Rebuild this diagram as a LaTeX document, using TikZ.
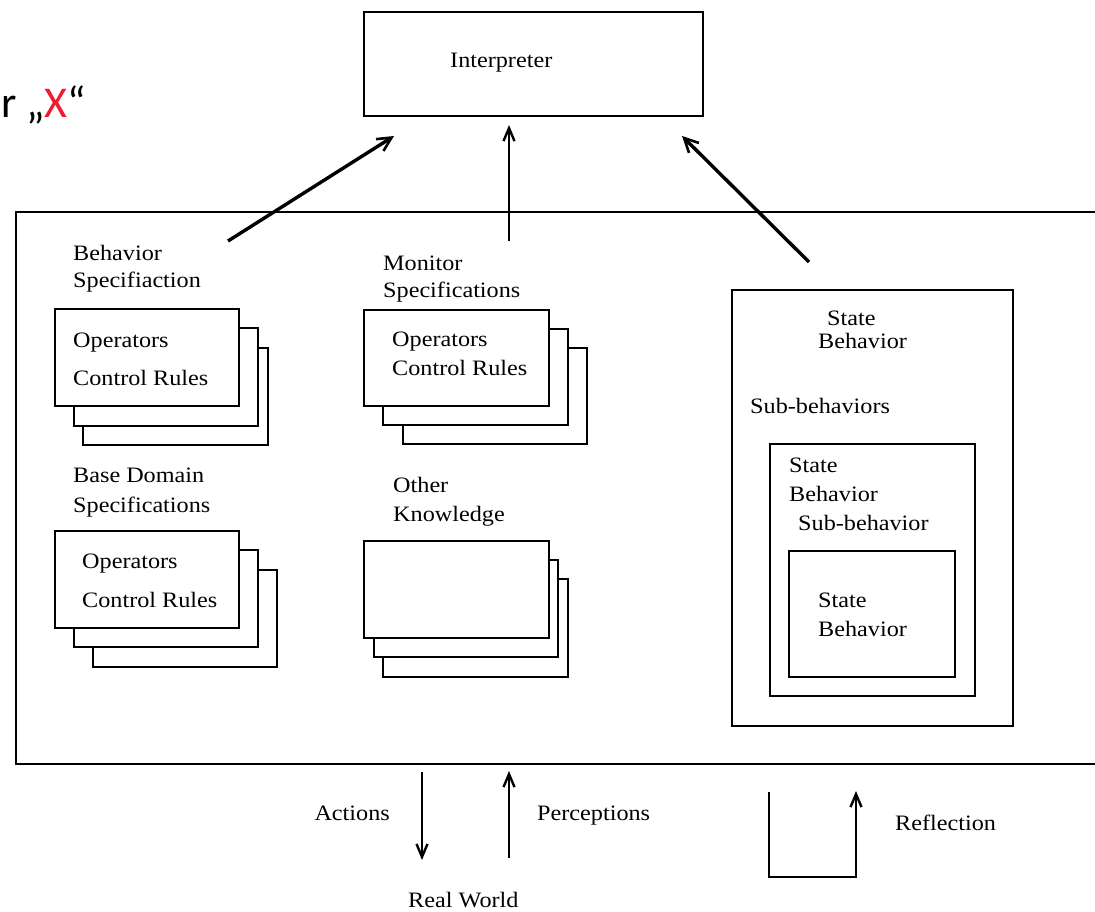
\documentclass[tikz,border=0pt]{standalone}
\usepackage{fontspec}
\setmainfont{Liberation Serif}[FakeStretch=1.1]
\newfontfamily\labelsans{Carlito}
\usetikzlibrary{arrows.meta}
\definecolor{markred}{RGB}{237,28,48}
\tikzset{
  x=1pt, y=-1pt,
  frame/.style={draw, line width=1.6pt},
  card/.style={draw, fill=white, line width=1.6pt},
  txt/.style={anchor=base west, inner sep=0pt, font=\fontsize{22}{24}\selectfont},
  flow/.style={line width=3.4pt, -{Straight Barb[length=14pt,width=14pt,line width=2.6pt]}},
  thinflow/.style={line width=2.8pt, -{Straight Barb[length=13pt,width=11pt,line width=2.4pt]}}
}
\begin{document}
\begin{tikzpicture}
\useasboundingbox (0,0) rectangle (1095,911);

% heading fragment at the top left
\node[anchor=base west, inner sep=0pt, font=\labelsans\fontsize{44}{48}\selectfont] (mark) at (1,117) {r „\textcolor{markred}{X}“};

% interpreter
\draw[frame] (364,12) rectangle (703,116);
\node[txt] (interp) at (450,67) {Interpreter};

% knowledge base frame (open to the right)
\draw[frame] (1100,212) -- (16,212) -- (16,764) -- (1100,764);

% behavior specification stack
\node[txt] (bs1) at (73,260) {Behavior};
\node[txt] (bs2) at (73,287) {Specifiaction};
\draw[card] (83,348) rectangle (268,445);
\draw[card] (74,328) rectangle (258,426);
\draw[card] (55,309) rectangle (239,406);
\node[txt] (bsop) at (73,347) {Operators};
\node[txt] (bscr) at (73,385) {Control Rules};

% monitor specification stack
\node[txt] (ms1) at (383,270) {Monitor};
\node[txt] (ms2) at (383,297) {Specifications};
\draw[card] (403,348) rectangle (587,444);
\draw[card] (383,329) rectangle (568,425);
\draw[card] (364,310) rectangle (549,406);
\node[txt] (msop) at (392,346) {Operators};
\node[txt] (mscr) at (392,375) {Control Rules};

% base domain specification stack
\node[txt] (bd1) at (73,482) {Base Domain};
\node[txt] (bd2) at (73,512) {Specifications};
\draw[card] (93,570) rectangle (277,667);
\draw[card] (74,550) rectangle (258,647);
\draw[card] (55,531) rectangle (239,628);
\node[txt] (bdop) at (82,568) {Operators};
\node[txt] (bdcr) at (82,607) {Control Rules};

% other knowledge stack
\node[txt] (ok1) at (393,492) {Other};
\node[txt] (ok2) at (393,521) {Knowledge};
\draw[card] (383,579) rectangle (568,677);
\draw[card] (374,560) rectangle (558,657);
\draw[card] (364,541) rectangle (549,638);

% nested state behaviors
\draw[frame] (732,290) rectangle (1013,726);
\node[txt] (sb1) at (827,325) {State};
\node[txt] (sb2) at (818,348) {Behavior};
\node[txt] (sub1) at (750,413) {Sub-behaviors};
\draw[frame] (770,444) rectangle (975,696);
\node[txt] (sb3) at (789,472) {State};
\node[txt] (sb4) at (789,501) {Behavior};
\node[txt] (sub2) at (798,530) {Sub-behavior};
\draw[frame] (789,551) rectangle (955,677);
\node[txt] (sb5) at (818,607) {State};
\node[txt] (sb6) at (818,636) {Behavior};

% connectors to the interpreter
\coordinate (a1s) at (228,241);
\coordinate (a1e) at (394,136);
\coordinate (a2s) at (509,241);
\coordinate (a2e) at (509,125);
\coordinate (a3s) at (809,262);
\coordinate (a3e) at (682,136);
\draw[flow] (a1s) -- (a1e);
\draw[thinflow] (a2s) -- (a2e);
\draw[flow] (a3s) -- (a3e);

% environment connectors
\coordinate (act1) at (422,772);
\coordinate (act2) at (422,860);
\coordinate (per1) at (509,858);
\coordinate (per2) at (509,771);
\coordinate (ref1) at (769,792);
\coordinate (ref2) at (856,877);
\coordinate (ref3) at (856,791);
\draw[thinflow] (act1) -- (act2);
\draw[thinflow] (per1) -- (per2);
\draw[thinflow] (ref1) |- (ref2) -- (ref3);

\node[txt, anchor=base east] (actions) at (390,820) {Actions};
\node[txt] (percep) at (537,820) {Perceptions};
\node[txt] (world) at (408,907) {Real World};
\node[txt] (reflect) at (895,830) {Reflection};
\end{tikzpicture}
\end{document}
